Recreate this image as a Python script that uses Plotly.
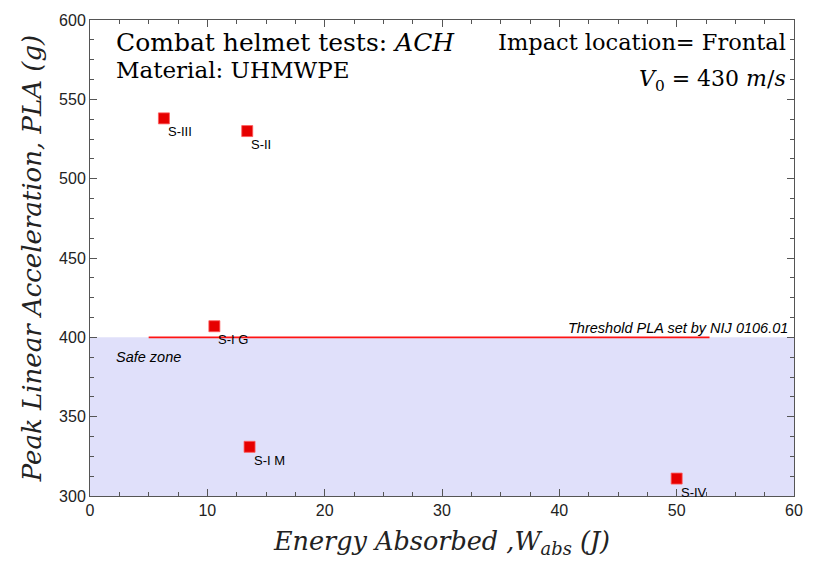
import plotly.graph_objects as go

# Data
labels = ["S-III", "S-II", "S-I G", "S-I M", "S-IV"]
energy = [6.3, 13.4, 10.6, 13.6, 50.0]
pla = [538, 530, 407, 331, 311]
threshold_x = [5.0, 52.8]
threshold_y = [400, 400]
safe_zone_x = [0, 60]
safe_zone_y = [300, 400]
xticks = [0, 10, 20, 30, 40, 50, 60]
yticks = [300, 350, 400, 450, 500, 550, 600]

serif = "DejaVu Serif, Liberation Serif, serif"
sans = "Liberation Sans, Arial, sans-serif"

fig = go.Figure()

# safe zone
fig.add_trace(go.Scatter(
    x=[safe_zone_x[0], safe_zone_x[1], safe_zone_x[1], safe_zone_x[0], safe_zone_x[0]],
    y=[safe_zone_y[0], safe_zone_y[0], safe_zone_y[1], safe_zone_y[1], safe_zone_y[0]],
    fill="toself", fillcolor="rgb(224,224,250)", line=dict(width=0),
    mode="lines", hoverinfo="skip", showlegend=False))

# threshold line
fig.add_trace(go.Scatter(x=threshold_x, y=threshold_y, mode="lines",
                         line=dict(color="rgb(255,20,20)", width=1.6),
                         showlegend=False))

# points
fig.add_trace(go.Scatter(x=energy, y=pla, mode="markers",
                         marker=dict(symbol="square", size=11, color="rgb(230,0,0)",
                                     line=dict(color="rgb(255,90,90)", width=0.8)),
                         showlegend=False))

for lab, ex, py in zip(labels, energy, pla):
    fig.add_annotation(x=ex, y=py, text=lab, showarrow=False, xanchor="left",
                       yanchor="top", xshift=2, yshift=-4,
                       font=dict(family=sans, size=13, color="black"))

def ann(x, y, text, size, xanchor, family=serif):
    fig.add_annotation(x=x, y=y, xref="paper", yref="paper", text=text,
                       showarrow=False, xanchor=xanchor, yanchor="middle",
                       font=dict(family=family, size=size, color="black"))

ann(0.034, 0.953, "Combat helmet tests: <i>ACH</i>", 25, "left")
ann(0.034, 0.896, "Material: UHMWPE", 23, "left")
ann(0.992, 0.953, "Impact location= Frontal", 22.5, "right")
ann(0.992, 0.872, "<i>V</i><sub>0</sub> = 430 <i>m</i>/<i>s</i>", 22, "right")
ann(0.994, 0.352, "<i>Threshold PLA set by NIJ 0106.01</i>", 14.5, "right", sans)
ann(0.034, 0.293, "<i>Safe zone</i>", 14.5, "left", sans)

axis_common = dict(showgrid=False, zeroline=False, showline=True, linecolor="#555",
                   linewidth=1, mirror="ticks", ticks="inside", ticklen=7,
                   tickcolor="#555", tickfont=dict(family=sans, size=16, color="#222"))

fig.update_xaxes(range=[0, 60], tickvals=xticks, **axis_common,
                 minor=dict(dtick=2.5, ticklen=4, ticks="inside", tickcolor="#555"),
                 title=dict(text="<i>Energy Absorbed ,W</i><sub><i>abs</i></sub> <i>(J)</i>",
                            font=dict(family=serif, size=25.5, color="#222"), standoff=13))
fig.update_yaxes(range=[300, 600], tickvals=yticks, **axis_common,
                 minor=dict(dtick=12.5, ticklen=4, ticks="inside", tickcolor="#555"),
                 title=dict(text="<i>Peak Linear Acceleration, PLA (g)</i>",
                            font=dict(family=serif, size=26, color="#222"), standoff=9))

fig.update_layout(width=815, height=564, margin=dict(l=90, r=18, t=16, b=68),
                  plot_bgcolor="white", paper_bgcolor="white")

fig.write_html("out.html")
